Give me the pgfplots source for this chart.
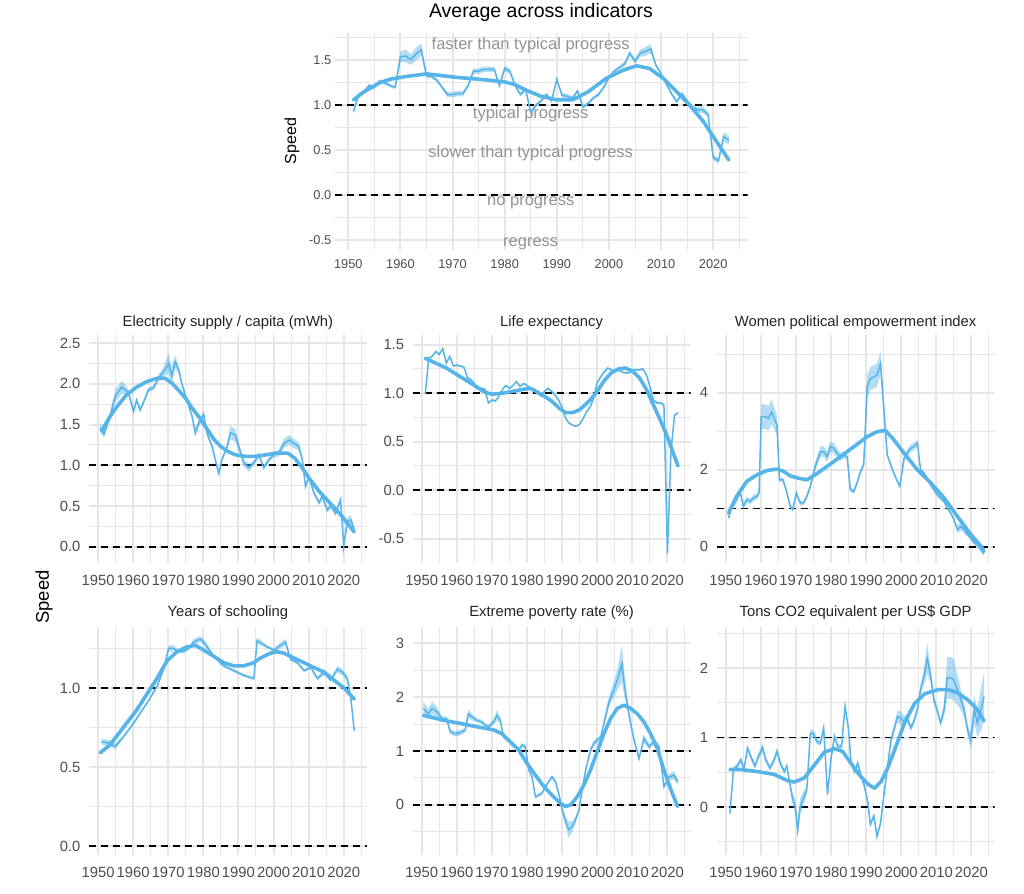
\documentclass[border=0pt]{standalone}
\usepackage{fontspec}
\setmainfont{Liberation Sans}
\usepackage{pgfplots}
\pgfplotsset{compat=1.18}
\usepackage{pgfplotstable}

\definecolor{sky}{HTML}{56B4E9}
\definecolor{gridc}{HTML}{E6E6E6}
\definecolor{tickc}{HTML}{4D4D4D}
\definecolor{annot}{HTML}{939393}
\definecolor{titlec}{HTML}{222222}

% speed series: x = year, y = speed, e = half width of the band
\pgfplotstableread{
x y e
1951 0.93 0.02
1952 1.12 0.02
1953 1.15 0.02
1954 1.22 0.02
1955 1.20 0.02
1956 1.27 0.02
1957 1.25 0.02
1958 1.22 0.02
1959 1.20 0.02
1960 1.54 0.06
1961 1.55 0.07
1962 1.51 0.06
1963 1.57 0.07
1964 1.62 0.07
1965 1.33 0.03
1966 1.32 0.02
1967 1.28 0.02
1968 1.20 0.02
1969 1.12 0.03
1970 1.12 0.03
1971 1.13 0.03
1972 1.13 0.03
1973 1.22 0.02
1974 1.38 0.03
1975 1.38 0.03
1976 1.40 0.03
1977 1.40 0.03
1978 1.40 0.03
1979 1.22 0.02
1980 1.41 0.03
1981 1.38 0.03
1982 1.22 0.02
1983 1.12 0.02
1984 1.18 0.02
1985 0.92 0.02
1986 1.00 0.02
1987 1.05 0.02
1988 1.12 0.02
1989 1.05 0.02
1990 1.29 0.02
1991 1.11 0.03
1992 1.10 0.03
1993 1.08 0.02
1994 1.16 0.02
1995 0.98 0.02
1996 1.02 0.02
1997 1.08 0.02
1998 1.12 0.02
1999 1.20 0.02
2000 1.31 0.02
2001 1.38 0.02
2002 1.42 0.02
2003 1.46 0.03
2004 1.58 0.03
2005 1.49 0.03
2006 1.58 0.04
2007 1.60 0.05
2008 1.63 0.05
2009 1.45 0.02
2010 1.35 0.02
2011 1.24 0.02
2012 1.13 0.02
2013 1.04 0.02
2014 1.13 0.02
2015 1.05 0.02
2016 0.98 0.02
2017 0.95 0.03
2018 0.95 0.04
2019 0.90 0.03
2020 0.42 0.03
2021 0.38 0.03
2022 0.65 0.05
2023 0.61 0.05
}\tavg
\pgfplotstableread{
x y
1951 1.06
1953 1.15
1956 1.25
1958 1.29
1961 1.32
1965 1.35
1968 1.33
1971 1.31
1977 1.28
1980 1.26
1982 1.23
1984 1.17
1987 1.10
1990 1.06
1993 1.06
1996 1.15
1999.5 1.30
2002.7 1.39
2005.3 1.44
2007.8 1.41
2010.4 1.30
2013 1.15
2015.5 1.00
2018.1 0.82
2020.7 0.59
2023 0.39
}\tavgs

\pgfplotstableread{
x y e
1950.6 1.46 0.05
1951.7 1.38 0.04
1953.4 1.60 0.04
1954.9 1.85 0.08
1956.8 1.96 0.08
1958.7 1.89 0.04
1960.1 1.66 0.03
1961.0 1.80 0.03
1962.0 1.68 0.03
1963.4 1.82 0.03
1964.4 1.93 0.03
1965.8 1.95 0.03
1967.2 2.07 0.04
1968.7 2.15 0.06
1970.1 2.25 0.12
1971.0 2.10 0.12
1972.0 2.27 0.08
1973.0 2.17 0.05
1973.9 2.00 0.03
1975.3 1.80 0.03
1976.8 1.60 0.03
1977.7 1.40 0.05
1978.7 1.52 0.05
1980.1 1.62 0.04
1981.0 1.40 0.03
1982.5 1.23 0.03
1983.4 1.07 0.04
1984.4 0.90 0.04
1985.3 1.07 0.03
1986.8 1.23 0.03
1987.7 1.40 0.08
1989.1 1.37 0.08
1990.1 1.23 0.05
1991.5 1.03 0.04
1993.0 0.97 0.05
1994.4 1.03 0.03
1995.8 1.13 0.03
1997.2 0.97 0.03
1998.7 1.07 0.03
2000.1 1.13 0.03
2001.5 1.15 0.04
2003.0 1.27 0.06
2004.4 1.31 0.06
2005.8 1.27 0.06
2007.2 1.23 0.05
2008.2 1.07 0.03
2009.1 0.74 0.03
2010.1 0.86 0.03
2011.5 0.66 0.03
2013.0 0.54 0.03
2013.9 0.62 0.03
2015.3 0.45 0.03
2016.3 0.50 0.03
2017.7 0.41 0.03
2019.1 0.58 0.03
2020.0 0.00 0.03
2021.0 0.31 0.05
2022.0 0.33 0.05
2023.0 0.21 0.04
}\telec
\pgfplotstableread{
x y
1951 1.42
1953 1.57
1955 1.70
1958 1.86
1961 1.96
1964 2.03
1967 2.07
1969 2.07
1971 2.01
1973 1.92
1975 1.82
1977 1.69
1979 1.58
1981 1.45
1983 1.32
1985 1.23
1987 1.17
1989 1.13
1992 1.11
1995 1.11
1998 1.13
2001 1.15
2004 1.15
2006 1.09
2008 0.98
2010 0.85
2013 0.68
2016 0.54
2019 0.40
2021 0.29
2023 0.18
}\telecs

\pgfplotstableread{
x y e
1951 0.99 0.01
1952 1.36 0.01
1953 1.38 0.01
1954 1.43 0.01
1955 1.40 0.01
1956 1.46 0.01
1957 1.31 0.01
1958 1.38 0.01
1959 1.28 0.01
1960 1.29 0.01
1961 1.28 0.01
1962 1.27 0.01
1963 1.16 0.01
1964 1.14 0.01
1965 1.10 0.01
1966 1.05 0.01
1967 1.05 0.01
1968 1.04 0.01
1969 0.90 0.01
1970 0.93 0.01
1971 0.92 0.01
1972 0.97 0.01
1973 1.04 0.01
1974 1.08 0.01
1975 1.05 0.01
1976 1.08 0.01
1977 1.12 0.01
1978 1.07 0.01
1979 1.10 0.01
1980 1.08 0.01
1981 1.05 0.01
1982 1.04 0.01
1983 1.00 0.01
1984 0.97 0.01
1985 1.02 0.01
1986 1.05 0.01
1987 1.02 0.01
1988 0.98 0.01
1989 0.93 0.01
1990 0.85 0.01
1991 0.74 0.01
1992 0.69 0.01
1993 0.67 0.01
1994 0.66 0.01
1995 0.68 0.01
1996 0.74 0.01
1997 0.81 0.01
1998 0.86 0.01
1999 0.95 0.01
2000 1.11 0.01
2001 1.17 0.01
2002 1.22 0.01
2003 1.26 0.01
2004 1.24 0.01
2005 1.22 0.01
2006 1.24 0.01
2007 1.22 0.01
2008 1.21 0.01
2009 1.21 0.01
2010 1.24 0.01
2011 1.24 0.01
2012 1.24 0.01
2013 1.25 0.01
2014 1.19 0.01
2015 1.07 0.01
2016 0.93 0.01
2017 0.90 0.01
2018 0.90 0.01
2019 0.88 0.01
2020 -0.65 0.01
2021 0.40 0.01
2022 0.77 0.01
2023 0.80 0.01
}\tlife
\pgfplotstableread{
x y
1951 1.36
1954 1.31
1957 1.26
1961 1.17
1965 1.08
1968 1.01
1970 0.99
1973 1.00
1976 1.02
1979 1.04
1981 1.05
1984 0.99
1987 0.92
1989 0.85
1991 0.80
1993 0.80
1995 0.83
1998 0.93
2000 1.02
2002 1.13
2004 1.21
2006 1.25
2008 1.26
2010 1.23
2012 1.16
2014 1.04
2016 0.88
2018 0.72
2020 0.55
2021 0.45
2023 0.25
}\tlifes

\pgfplotstableread{
x y e
1950.8 0.75 0.08
1951.7 1.05 0.08
1953.1 1.22 0.08
1954.1 1.44 0.08
1955.0 1.05 0.08
1956.0 1.22 0.08
1957.0 1.18 0.08
1957.9 1.27 0.08
1958.9 1.31 0.08
1959.5 1.40 0.08
1960.1 3.38 0.32
1961.2 3.38 0.32
1962.2 3.34 0.32
1963.1 3.50 0.32
1964.6 3.16 0.25
1965.3 1.74 0.06
1966.3 1.74 0.06
1967.2 1.48 0.06
1968.4 1.05 0.06
1969.1 0.97 0.06
1970.1 1.40 0.06
1971.2 1.14 0.06
1972.2 1.14 0.06
1973.1 1.31 0.06
1974.1 1.57 0.08
1975.5 2.09 0.12
1977.0 2.47 0.14
1977.9 2.47 0.14
1978.9 2.34 0.14
1979.8 2.60 0.14
1980.8 2.56 0.14
1981.7 2.43 0.12
1982.7 2.34 0.1
1983.6 2.39 0.1
1984.6 2.34 0.08
1985.5 1.48 0.06
1986.5 1.44 0.06
1987.4 1.66 0.06
1988.4 1.96 0.06
1989.3 2.13 0.08
1990.3 4.16 0.3
1991.2 4.37 0.3
1992.2 4.41 0.3
1993.1 4.46 0.3
1994.1 4.76 0.3
1996.0 2.39 0.06
1997.0 2.13 0.05
1997.9 1.91 0.05
1998.9 1.70 0.05
1999.6 1.57 0.05
2000.8 2.30 0.1
2001.7 2.43 0.1
2002.7 2.56 0.1
2003.6 2.60 0.1
2004.6 2.69 0.1
2005.5 2.00 0.05
2006.5 1.91 0.05
2007.4 1.78 0.05
2008.4 1.61 0.05
2009.3 1.48 0.05
2010.3 1.35 0.05
2011.2 1.27 0.05
2012.2 1.18 0.05
2013.1 1.01 0.05
2014.1 0.88 0.05
2015.0 0.71 0.06
2016.0 0.45 0.1
2017.0 0.53 0.1
2017.9 0.45 0.1
2018.9 0.32 0.06
2019.8 0.23 0.05
2020.8 0.10 0.05
2021.7 0.06 0.08
2022.7 -0.07 0.08
2023.6 -0.17 0.06
}\twomen
\pgfplotstableread{
x y
1950.8 0.88
1953.1 1.31
1956.0 1.70
1958.9 1.87
1961.7 1.98
1964.6 2.02
1966.5 1.96
1968.4 1.84
1970.8 1.78
1973.1 1.74
1975.5 1.87
1978.9 2.09
1982.7 2.34
1986.5 2.60
1990.3 2.86
1993.1 2.99
1995.5 3.02
1997.9 2.78
2000.8 2.43
2004.6 2.00
2008.4 1.66
2012.2 1.27
2016.0 0.79
2019.8 0.32
2022.7 0.02
2023.6 -0.11
}\twomens

\pgfplotstableread{
x y e
1951.0 0.66 0.02
1953.4 0.65 0.02
1954.9 0.63 0.02
1957.2 0.69 0.01
1959.6 0.76 0.01
1962.0 0.84 0.01
1964.4 0.92 0.01
1966.8 1.01 0.01
1968.7 1.12 0.01
1970.1 1.25 0.02
1971.5 1.25 0.02
1973.0 1.23 0.01
1974.4 1.23 0.01
1975.8 1.25 0.01
1977.2 1.29 0.02
1979.1 1.31 0.02
1980.1 1.29 0.02
1983.0 1.20 0.01
1985.8 1.14 0.01
1988.7 1.11 0.01
1991.5 1.08 0.01
1994.4 1.06 0.01
1995.3 1.30 0.02
1998.2 1.26 0.01
2000.1 1.24 0.01
2002.0 1.27 0.02
2003.4 1.29 0.02
2004.9 1.18 0.01
2006.8 1.16 0.01
2008.7 1.11 0.01
2010.6 1.13 0.01
2012.5 1.06 0.01
2014.4 1.10 0.02
2016.3 1.05 0.01
2018.2 1.12 0.02
2019.6 1.10 0.02
2021.0 1.06 0.02
2022.0 0.94 0.02
2023.0 0.73 0.01
}\tschool
\pgfplotstableread{
x y
1950.6 0.59
1953.4 0.64
1957.2 0.75
1961.0 0.86
1963.9 0.96
1966.8 1.06
1969.6 1.17
1972.5 1.23
1975.3 1.26
1977.7 1.27
1980.1 1.24
1983.0 1.20
1985.8 1.16
1988.7 1.14
1991.5 1.14
1994.4 1.16
1996.3 1.19
1999.1 1.22
2001.0 1.23
2003.0 1.22
2005.8 1.19
2008.7 1.16
2011.5 1.13
2014.4 1.10
2017.2 1.05
2020.1 1.00
2023.0 0.93
}\tschools

\pgfplotstableread{
x y e
1950.5 1.79 0.12
1951.9 1.69 0.1
1952.9 1.79 0.12
1954.3 1.73 0.1
1955.7 1.60 0.05
1957.1 1.60 0.04
1958.1 1.36 0.05
1959.5 1.32 0.05
1961.0 1.34 0.05
1962.4 1.39 0.04
1963.3 1.69 0.08
1964.3 1.63 0.06
1965.7 1.57 0.04
1967.1 1.54 0.04
1968.1 1.48 0.03
1969.0 1.45 0.03
1970.5 1.54 0.05
1971.4 1.66 0.1
1972.4 1.57 0.06
1973.3 1.26 0.04
1974.8 1.20 0.04
1976.2 1.11 0.04
1977.6 1.02 0.04
1978.6 1.11 0.04
1979.5 1.08 0.04
1980.5 0.65 0.03
1981.4 0.52 0.03
1982.4 0.15 0.03
1983.3 0.18 0.03
1984.3 0.22 0.03
1985.2 0.34 0.03
1986.2 0.43 0.03
1987.1 0.52 0.03
1988.1 0.43 0.03
1989.0 0.22 0.04
1990.0 -0.09 0.06
1991.0 -0.31 0.1
1991.9 -0.46 0.15
1992.9 -0.40 0.1
1993.8 -0.28 0.06
1994.8 -0.09 0.04
1995.7 0.28 0.04
1996.7 0.65 0.04
1998.1 1.02 0.05
1999.0 1.14 0.05
2000.0 1.20 0.05
2001.0 1.26 0.05
2001.9 1.51 0.06
2003.3 1.90 0.1
2004.8 2.15 0.15
2005.9 2.35 0.2
2007.0 2.62 0.35
2008.1 2.05 0.15
2009.5 1.51 0.06
2010.5 1.20 0.05
2011.9 0.86 0.05
2013.3 1.23 0.08
2014.8 1.08 0.05
2016.2 1.17 0.05
2017.6 1.08 0.05
2019.0 0.34 0.04
2020.5 0.52 0.06
2021.9 0.55 0.08
2022.9 0.43 0.06
}\tpov
\pgfplotstableread{
x y
1950.5 1.66
1956.2 1.57
1961.0 1.51
1965.7 1.45
1970.5 1.39
1972.9 1.32
1975.2 1.17
1977.6 1.02
1980.0 0.77
1982.4 0.55
1984.8 0.34
1987.1 0.18
1989.5 0.03
1991.0 -0.03
1992.4 0.00
1994.3 0.15
1996.2 0.37
1998.1 0.65
2000.0 0.99
2001.9 1.32
2003.8 1.60
2005.7 1.79
2007.6 1.85
2009.5 1.79
2011.4 1.69
2013.3 1.54
2015.2 1.32
2017.1 1.05
2019.0 0.65
2021.0 0.28
2022.9 -0.03
}\tpovs

\pgfplotstableread{
x y e
1951.2 -0.09 0.05
1952.2 0.54 0.04
1953.3 0.59 0.04
1954.3 0.68 0.04
1955.2 0.54 0.04
1956.2 0.85 0.04
1957.1 0.73 0.04
1958.3 0.59 0.04
1959.5 0.75 0.05
1960.5 0.85 0.06
1961.4 0.68 0.05
1962.6 0.56 0.04
1963.8 0.68 0.05
1964.6 0.80 0.06
1965.7 0.61 0.04
1966.7 0.51 0.04
1967.4 0.59 0.04
1968.4 0.30 0.05
1969.0 0.13 0.08
1969.8 0.01 0.1
1970.5 -0.33 0.1
1971.2 0.01 0.12
1972.2 0.13 0.1
1973.1 0.25 0.06
1974.1 1.06 0.06
1975.0 1.06 0.05
1976.0 0.94 0.04
1977.0 0.92 0.04
1977.9 1.14 0.04
1979.0 0.18 0.04
1980.0 0.70 0.04
1981.0 1.02 0.04
1981.9 0.87 0.04
1983.0 0.87 0.04
1984.0 1.45 0.04
1985.0 1.11 0.04
1985.7 0.63 0.04
1986.7 0.51 0.04
1987.6 0.63 0.05
1988.6 0.44 0.04
1989.5 0.30 0.04
1990.5 0.06 0.04
1991.2 -0.25 0.04
1992.2 -0.13 0.04
1993.1 -0.42 0.04
1994.1 -0.23 0.04
1995.0 0.15 0.04
1996.0 0.54 0.04
1997.0 0.94 0.05
1997.9 1.11 0.06
1998.9 1.30 0.08
1999.8 1.28 0.1
2000.8 1.23 0.08
2001.7 1.28 0.06
2002.7 1.14 0.05
2003.6 1.23 0.05
2004.6 1.40 0.06
2005.5 1.69 0.08
2006.5 1.88 0.12
2007.4 2.14 0.22
2008.4 1.88 0.1
2009.3 1.54 0.06
2010.3 1.38 0.05
2011.2 1.21 0.05
2012.2 1.40 0.1
2013.1 1.86 0.3
2014.1 1.86 0.3
2015.0 1.83 0.3
2016.0 1.69 0.22
2017.0 1.54 0.15
2017.9 1.40 0.1
2018.9 1.11 0.08
2019.8 0.95 0.12
2020.8 1.40 0.2
2021.7 1.21 0.2
2022.7 1.40 0.3
2023.6 1.59 0.35
}\tco
\pgfplotstableread{
x y
1951.2 0.54
1954.3 0.54
1959.0 0.51
1963.8 0.47
1967.6 0.38
1969.5 0.36
1972.4 0.42
1975.2 0.60
1978.1 0.79
1981.0 0.84
1983.3 0.80
1985.7 0.63
1988.1 0.46
1990.5 0.33
1992.4 0.27
1994.3 0.37
1996.2 0.57
1998.1 0.82
2001.0 1.22
2003.8 1.49
2006.7 1.63
2010.5 1.69
2013.3 1.69
2016.2 1.64
2019.0 1.54
2021.4 1.42
2023.6 1.24
}\tcos

\pgfplotsset{
  panel/.style={
    scale only axis, xmin=1947.4, xmax=2026.6,
    axis line style={draw=none},
    major tick length=0pt, minor tick length=0pt,
    grid=both,
    major grid style={line width=2bp, gridc},
    minor grid style={line width=1bp, gridc},
    xtick={1950,1960,...,2020}, minor xtick={1955,1965,...,2025},
    /pgf/number format/assume math mode=true,
    xticklabel style={/pgf/number format/1000 sep={}},
    tick label style={text=tickc},
  },
  toprow/.style={tick label style={font=\fontsize{12.8bp}{14bp}\selectfont},
    xticklabel style={yshift=-6bp}},
  lowrow/.style={width=278bp, height=228bp,
    tick label style={font=\fontsize{14.8bp}{16bp}\selectfont},
    xticklabel style={yshift=-8.5bp}, yticklabel style={xshift=-5bp}},
  dec/.style={yticklabel style={/pgf/number format/.cd, fixed, fixed zerofill, precision=1}},
  int/.style={yticklabel style={/pgf/number format/.cd, fixed, precision=0}},
  refline/.style={black, line width=1.6bp, dash pattern=on 7bp off 5bp, forget plot},
  raw/.style={sky, line width=1.5bp, stack plots=false},
  loess/.style={sky, line width=3.6bp, line cap=round, line join=round, stack plots=false},
}

% band: lower edge stacked, then the band height filled on top of it
\newcommand{\ribbon}[1]{%
  \addplot[draw=none, stack plots=y, forget plot] table[x=x, y expr=\thisrow{y}-\thisrow{e}] {#1};
  \addplot[draw=none, fill=sky, fill opacity=0.45, stack plots=y, forget plot] table[x=x, y expr=2*\thisrow{e}] {#1} \closedcycle;
}
\newcommand{\refs}{%
  \addplot[refline] coordinates {(1947.4,1) (2026.6,1)};
  \addplot[refline] coordinates {(1947.4,0) (2026.6,0)};
}
\newcommand{\series}[2]{%
  \ribbon{#1}
  \addplot[raw] table[x=x, y=y] {#1};
  \addplot[loess] table[x=x, y=y] {#2};
}

\begin{document}
\begin{tikzpicture}
\path[use as bounding box] (0,0) rectangle (1024bp,-894bp);

% top panel
\begin{axis}[panel, toprow, dec, at={(334.7bp,-249.7bp)}, anchor=south west,
  width=412.9bp, height=217.1bp, ymin=-0.61, ymax=1.81,
  ytick={-0.5,0,0.5,1,1.5}, minor ytick={-0.25,0.25,0.75,1.25,1.75}]
  \refs
  \node[text=annot, font=\fontsize{16.5bp}{19bp}\selectfont] at (axis cs:1985,1.665) {faster than typical progress};
  \node[text=annot, font=\fontsize{16.5bp}{19bp}\selectfont] at (axis cs:1985,0.905) {typical progress};
  \node[text=annot, font=\fontsize{16.5bp}{19bp}\selectfont] at (axis cs:1985,0.465) {slower than typical progress};
  \node[text=annot, font=\fontsize{16.5bp}{19bp}\selectfont] at (axis cs:1985,-0.085) {no progress};
  \node[text=annot, font=\fontsize{16.5bp}{19bp}\selectfont] at (axis cs:1985,-0.545) {regress};
  \series{\tavg}{\tavgs}
\end{axis}

% row 1
\begin{axis}[panel, lowrow, dec, at={(88.9bp,-563bp)}, anchor=south west,
  ymin=-0.2, ymax=2.6, ytick={0,0.5,...,2.5}, minor ytick={0.25,0.75,...,2.25}]
  \refs
  \series{\telec}{\telecs}
\end{axis}
\begin{axis}[panel, lowrow, dec, at={(412.6bp,-563bp)}, anchor=south west,
  ymin=-0.75, ymax=1.6, ytick={-0.5,0,0.5,1,1.5}, minor ytick={-0.25,0.25,0.75,1.25}]
  \refs
  \series{\tlife}{\tlifes}
\end{axis}
\begin{axis}[panel, lowrow, int, at={(716.6bp,-563bp)}, anchor=south west,
  ymin=-0.42, ymax=5.5, ytick={0,2,4}, minor ytick={1,3,5}]
  \refs
  \series{\twomen}{\twomens}
\end{axis}

% row 2
\begin{axis}[panel, lowrow, dec, at={(88.9bp,-855bp)}, anchor=south west,
  ymin=-0.057, ymax=1.386, ytick={0,0.5,1}, minor ytick={0.25,0.75,1.25}]
  \refs
  \series{\tschool}{\tschools}
\end{axis}
\begin{axis}[panel, lowrow, int, at={(412.6bp,-855bp)}, anchor=south west,
  ymin=-0.93, ymax=3.3, ytick={0,1,2,3}, minor ytick={-0.5,0.5,1.5,2.5}]
  \refs
  \series{\tpov}{\tpovs}
\end{axis}
\begin{axis}[panel, lowrow, int, at={(716.6bp,-855bp)}, anchor=south west,
  ymin=-0.69, ymax=2.59, ytick={0,1,2}, minor ytick={-0.5,0.5,1.5,2.5}]
  \refs
  \series{\tco}{\tcos}
\end{axis}

% titles and labels
\node[font=\fontsize{19.5bp}{22bp}\selectfont] at (541bp,-12bp) {Average across indicators};
\node[rotate=90, font=\fontsize{16bp}{18bp}\selectfont] at (292bp,-141bp) {Speed};
\node[rotate=90, font=\fontsize{18.4bp}{20bp}\selectfont] at (44bp,-597bp) {Speed};
\node[text=titlec, font=\fontsize{14.8bp}{17bp}\selectfont] at (227.9bp,-323bp) {Electricity supply / capita (mWh)};
\node[text=titlec, font=\fontsize{14.8bp}{17bp}\selectfont] at (551.6bp,-323bp) {Life expectancy};
\node[text=titlec, font=\fontsize{14.8bp}{17bp}\selectfont] at (855.6bp,-323bp) {Women political empowerment index};
\node[text=titlec, font=\fontsize{14.8bp}{17bp}\selectfont] at (227.9bp,-612.7bp) {Years of schooling};
\node[text=titlec, font=\fontsize{14.8bp}{17bp}\selectfont] at (551.6bp,-612.7bp) {Extreme poverty rate (\%)};
\node[text=titlec, font=\fontsize{14.8bp}{17bp}\selectfont] at (855.6bp,-612.7bp) {Tons CO2 equivalent per US\$ GDP};
\end{tikzpicture}
\end{document}
